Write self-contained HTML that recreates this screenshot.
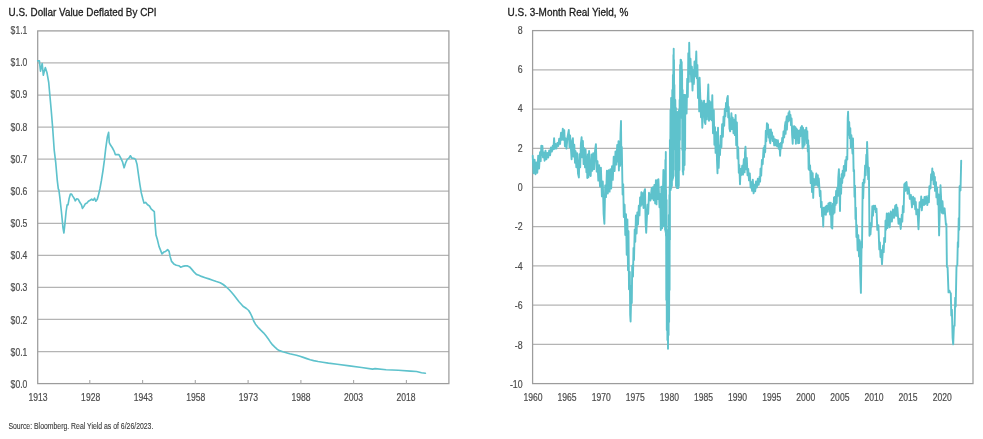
<!DOCTYPE html>
<html><head><meta charset="utf-8"><title>Charts</title>
<style>html,body{margin:0;padding:0;background:#fff;}body{width:983px;height:439px;overflow:hidden;font-family:"Liberation Sans",sans-serif;}svg{display:block;}</style>
</head><body>
<svg width="983" height="439" viewBox="0 0 983 439" font-family="Liberation Sans, sans-serif">
<rect width="983" height="439" fill="#fff"/>
<line x1="37.7" y1="62.96" x2="448.9" y2="62.96" stroke="#b4b4b4" stroke-width="1.25"/>
<line x1="37.7" y1="95.03" x2="448.9" y2="95.03" stroke="#b4b4b4" stroke-width="1.25"/>
<line x1="37.7" y1="127.09" x2="448.9" y2="127.09" stroke="#b4b4b4" stroke-width="1.25"/>
<line x1="37.7" y1="159.15" x2="448.9" y2="159.15" stroke="#b4b4b4" stroke-width="1.25"/>
<line x1="37.7" y1="191.22" x2="448.9" y2="191.22" stroke="#b4b4b4" stroke-width="1.25"/>
<line x1="37.7" y1="223.28" x2="448.9" y2="223.28" stroke="#b4b4b4" stroke-width="1.25"/>
<line x1="37.7" y1="255.35" x2="448.9" y2="255.35" stroke="#b4b4b4" stroke-width="1.25"/>
<line x1="37.7" y1="287.41" x2="448.9" y2="287.41" stroke="#b4b4b4" stroke-width="1.25"/>
<line x1="37.7" y1="319.47" x2="448.9" y2="319.47" stroke="#b4b4b4" stroke-width="1.25"/>
<line x1="37.7" y1="351.54" x2="448.9" y2="351.54" stroke="#b4b4b4" stroke-width="1.25"/>
<rect x="37.7" y="30.9" width="411.2" height="352.70000000000005" fill="none" stroke="#9c9c9c" stroke-width="1.25"/>
<line x1="89.8" y1="383.6" x2="89.8" y2="380.1" stroke="#a8a8a8" stroke-width="1.1"/>
<line x1="142.6" y1="383.6" x2="142.6" y2="380.1" stroke="#a8a8a8" stroke-width="1.1"/>
<line x1="195.3" y1="383.6" x2="195.3" y2="380.1" stroke="#a8a8a8" stroke-width="1.1"/>
<line x1="248.1" y1="383.6" x2="248.1" y2="380.1" stroke="#a8a8a8" stroke-width="1.1"/>
<line x1="300.9" y1="383.6" x2="300.9" y2="380.1" stroke="#a8a8a8" stroke-width="1.1"/>
<line x1="353.6" y1="383.6" x2="353.6" y2="380.1" stroke="#a8a8a8" stroke-width="1.1"/>
<line x1="406.4" y1="383.6" x2="406.4" y2="380.1" stroke="#a8a8a8" stroke-width="1.1"/>
<path d="M37.7,60.8 L39.4,60.8 L40.5,71.1 L42.2,63.5 L43.3,75.2 L45.3,67.6 L47.0,72.8 L48.7,82.3 L49.8,94.5 L51.2,110.0 L52.6,127.0 L54.2,150.0 L55.7,162.3 L57.3,180.7 L58.3,188.9 L58.9,190.0 L59.8,197.1 L61.4,211.5 L63.0,227.9 L63.9,233.0 L64.9,223.8 L66.1,211.5 L67.1,204.9 L68.0,204.9 L69.2,198.2 L70.4,194.1 L71.6,194.1 L72.7,196.1 L74.1,198.2 L75.3,200.8 L76.8,198.8 L78.2,199.2 L79.8,202.3 L81.5,204.9 L82.5,208.4 L83.9,206.4 L85.4,203.7 L87.0,202.9 L88.4,201.2 L90.1,200.2 L91.7,199.2 L93.2,200.2 L94.6,198.2 L95.8,201.2 L97.3,199.2 L98.7,194.1 L99.9,188.9 L101.4,180.7 L103.0,170.5 L104.4,160.2 L105.7,148.7 L107.4,136.7 L108.6,132.4 L109.3,142.7 L110.5,145.1 L112.2,147.5 L114.1,151.1 L115.3,154.6 L117.0,154.6 L118.9,154.6 L120.8,158.2 L122.5,161.8 L124.1,167.8 L125.6,163.0 L127.2,159.4 L128.9,158.2 L130.4,155.8 L132.0,158.2 L133.7,158.2 L135.6,159.4 L137.0,164.2 L138.5,174.9 L139.9,184.5 L141.3,192.9 L142.8,198.8 L144.0,203.1 L145.6,202.4 L147.6,204.8 L149.5,206.0 L151.1,208.9 L152.8,210.3 L154.3,211.6 L155.0,222.6 L156.0,235.1 L157.5,240.1 L159.0,246.4 L160.5,250.1 L162.0,253.9 L163.8,252.1 L165.6,251.4 L167.6,249.6 L169.1,251.4 L170.1,256.4 L171.6,261.4 L173.8,263.9 L176.3,265.2 L178.8,265.7 L180.6,267.2 L182.6,266.4 L185.1,265.9 L187.6,265.9 L189.6,266.9 L191.4,268.9 L193.9,271.9 L196.4,274.4 L198.9,275.2 L201.4,276.4 L205.2,277.7 L208.9,278.9 L212.7,280.2 L216.4,281.5 L220.2,282.7 L223.2,284.5 L225.7,286.5 L229.0,289.5 L231.5,292.2 L234.0,295.2 L236.5,298.5 L239.0,301.8 L241.5,304.5 L243.0,306.2 L246.4,308.5 L248.7,310.5 L250.5,313.5 L252.1,316.9 L253.7,321.0 L255.5,324.2 L257.8,327.1 L260.5,329.9 L263.5,332.8 L265.8,335.6 L268.0,338.5 L270.3,341.9 L272.6,344.9 L274.9,347.2 L277.1,349.2 L279.4,350.6 L282.8,351.7 L286.3,352.7 L289.7,353.8 L293.1,354.5 L296.5,355.2 L299.9,356.3 L303.3,357.4 L306.8,358.6 L310.2,359.7 L313.6,360.6 L318.1,361.5 L322.7,362.2 L328.4,363.1 L337.2,364.2 L349.4,365.9 L361.6,367.5 L372.6,369.1 L375.1,368.6 L386.1,369.7 L398.3,370.3 L410.5,371.1 L416.6,371.5 L421.5,372.7 L425.4,373.2" fill="none" stroke="#5ec2cc" stroke-width="1.65" stroke-linejoin="round" stroke-linecap="round"/>
<line x1="532.6" y1="69.82" x2="973" y2="69.82" stroke="#b4b4b4" stroke-width="1.25"/>
<line x1="532.6" y1="109.04" x2="973" y2="109.04" stroke="#b4b4b4" stroke-width="1.25"/>
<line x1="532.6" y1="148.27" x2="973" y2="148.27" stroke="#b4b4b4" stroke-width="1.25"/>
<line x1="532.6" y1="187.49" x2="973" y2="187.49" stroke="#b4b4b4" stroke-width="1.25"/>
<line x1="532.6" y1="226.71" x2="973" y2="226.71" stroke="#b4b4b4" stroke-width="1.25"/>
<line x1="532.6" y1="265.93" x2="973" y2="265.93" stroke="#b4b4b4" stroke-width="1.25"/>
<line x1="532.6" y1="305.16" x2="973" y2="305.16" stroke="#b4b4b4" stroke-width="1.25"/>
<line x1="532.6" y1="344.38" x2="973" y2="344.38" stroke="#b4b4b4" stroke-width="1.25"/>
<rect x="532.6" y="30.6" width="440.4" height="353.0" fill="none" stroke="#9c9c9c" stroke-width="1.25"/>
<path d="M532.7,155.8 L533.6,173.3 L534.6,159.6 L535.5,174.3 L536.4,162.4 L537.3,172.8 L538.2,155.6 L539.1,168.5 L540.0,152.2 L540.7,161.1 L541.3,145.8 L541.9,154.8 L542.4,145.9 L543.0,157.4 L543.7,152.4 L544.6,160.7 L545.5,150.6 L546.4,159.3 L547.3,152.9 L548.2,157.5 L549.2,150.4 L550.1,155.3 L551.0,147.4 L551.9,151.6 L552.8,145.7 L553.4,149.4 L554.1,138.2 L554.8,148.8 L555.5,143.9 L556.4,148.5 L557.4,142.9 L558.3,146.0 L559.2,138.6 L560.1,144.0 L561.0,132.8 L561.9,139.8 L562.8,128.7 L563.6,139.9 L564.3,130.3 L564.9,146.2 L565.6,138.5 L566.5,148.6 L567.4,137.8 L568.8,130.0 L569.5,147.2 L570.1,135.5 L571.6,159.2 L572.2,141.4 L572.9,138.2 L573.6,156.6 L574.3,144.7 L575.0,162.8 L575.6,151.2 L576.3,167.3 L577.1,153.1 L578.0,173.6 L578.9,177.5 L579.5,154.2 L580.2,167.3 L580.9,143.5 L581.6,137.3 L582.3,157.4 L582.9,141.0 L583.6,164.1 L584.3,148.1 L585.0,167.4 L585.6,149.6 L586.4,172.3 L587.1,157.2 L587.3,178.0 L587.8,154.5 L588.4,177.4 L589.1,151.0 L589.9,174.2 L590.7,176.0 L591.5,154.5 L592.3,170.7 L593.2,153.1 L594.1,169.1 L595.0,151.0 L595.9,144.1 L596.7,171.6 L597.5,161.2 L598.3,180.6 L599.1,165.1 L600.0,186.4 L600.9,167.6 L601.9,196.4 L602.8,181.5 L603.6,213.6 L604.4,223.8 L605.2,185.5 L606.0,197.1 L606.9,170.7 L607.8,193.5 L608.7,170.2 L609.6,191.6 L610.4,169.1 L611.2,188.5 L612.0,166.2 L612.8,179.9 L613.7,156.7 L614.6,171.0 L615.5,151.4 L616.4,164.6 L617.2,144.9 L618.0,161.5 L618.5,141.3 L618.9,170.6 L619.5,141.9 L620.0,165.9 L620.5,134.0 L621.0,121.0 L621.4,164.2 L621.8,147.0 L622.6,194.6 L623.2,184.1 L623.8,217.0 L624.6,204.8 L625.3,235.0 L626.0,214.3 L626.7,254.7 L627.4,219.4 L628.0,270.3 L628.5,231.3 L629.0,289.3 L629.8,271.9 L630.2,314.9 L630.6,321.5 L631.4,285.7 L631.8,303.1 L632.2,265.6 L633.0,276.5 L633.5,247.9 L634.0,260.1 L634.7,229.5 L635.3,241.7 L635.9,215.4 L636.6,233.5 L637.3,212.4 L638.0,224.5 L638.8,205.8 L639.5,215.4 L640.1,197.4 L640.8,205.9 L641.4,192.1 L642.0,204.5 L642.8,193.2 L643.5,208.0 L644.2,191.8 L645.0,189.1 L645.6,222.6 L646.2,232.8 L647.5,204.8 L648.2,213.9 L649.0,192.8 L650.4,200.6 L651.7,188.0 L652.3,198.6 L653.0,187.1 L653.7,200.2 L654.4,184.9 L655.2,203.4 L655.9,180.1 L656.5,204.4 L657.2,180.3 L657.8,199.1 L658.4,179.1 L659.5,207.2 L660.2,194.2 L660.8,230.1 L661.4,186.6 L662.1,228.2 L663.4,170.0 L663.6,226.0 L663.9,177.2 L664.1,226.0 L664.3,172.0 L664.6,220.4 L664.9,175.0 L665.1,230.0 L665.4,160.0 L665.6,232.0 L665.8,152.0 L666.0,236.0 L666.1,190.0 L666.3,300.0 L666.6,200.0 L666.8,330.0 L667.2,230.0 L667.4,340.0 L667.8,250.0 L668.0,348.8 L668.4,240.0 L668.6,335.0 L668.9,215.0 L669.1,322.0 L669.4,195.0 L669.6,290.0 L669.7,186.0 L669.9,240.0 L669.9,140.0 L670.1,190.0 L670.5,110.0 L670.7,190.0 L671.1,98.0 L671.3,188.0 L671.7,98.0 L671.9,186.0 L672.3,90.0 L672.5,180.0 L672.9,75.0 L673.1,178.0 L673.4,55.0 L673.6,176.0 L673.7,48.7 L673.9,170.0 L674.0,60.0 L674.2,150.0 L674.4,85.0 L674.6,120.0 L674.9,99.4 L675.1,125.0 L675.3,100.0 L675.7,130.0 L675.9,108.0 L676.0,186.0 L676.2,112.0 L676.5,178.3 L676.7,112.0 L676.9,188.0 L677.1,121.6 L677.4,188.0 L677.6,112.0 L677.9,176.8 L678.1,112.0 L678.3,188.0 L678.5,114.5 L678.8,186.0 L679.0,110.0 L679.4,170.0 L679.6,100.0 L679.9,140.0 L680.1,65.0 L680.4,118.0 L680.6,59.6 L680.9,109.2 L681.1,60.0 L681.3,115.0 L681.7,62.0 L681.9,115.0 L682.1,70.0 L682.3,150.0 L682.6,90.0 L682.8,172.0 L683.0,95.0 L683.2,174.5 L683.5,107.2 L683.7,170.0 L683.9,95.0 L684.1,153.1 L684.4,95.0 L684.6,165.0 L684.9,96.5 L685.1,150.0 L685.3,95.0 L686.0,96.1 L686.6,113.6 L687.2,78.7 L687.8,97.1 L688.3,53.3 L688.8,81.9 L689.2,42.7 L689.9,73.9 L690.5,58.8 L691.2,81.6 L691.9,66.8 L692.5,90.5 L693.2,69.9 L693.9,83.9 L694.5,61.5 L695.4,76.4 L696.3,51.4 L696.8,78.3 L697.4,64.9 L698.0,98.0 L698.7,82.0 L699.2,111.4 L699.6,77.8 L701.0,117.2 L701.6,100.7 L702.3,127.8 L703.2,104.2 L704.1,100.6 L704.8,122.1 L705.4,124.0 L706.1,103.6 L706.9,119.4 L708.3,84.5 L709.0,120.7 L709.6,101.1 L710.2,119.1 L710.9,102.5 L711.6,120.3 L712.3,95.1 L713.0,133.2 L713.8,110.2 L714.4,144.7 L715.0,127.3 L715.6,152.9 L716.3,132.1 L717.0,160.5 L717.5,173.3 L718.0,127.8 L718.2,141.8 L718.7,167.9 L719.4,145.6 L720.0,155.0 L720.7,135.9 L721.4,147.2 L722.1,124.2 L722.9,136.8 L723.5,116.6 L724.2,125.8 L724.8,108.9 L725.4,116.2 L726.0,102.9 L726.5,111.1 L727.1,98.5 L727.8,96.0 L728.2,117.4 L728.7,106.9 L729.5,128.6 L730.2,131.4 L731.4,113.3 L732.0,129.1 L732.7,117.8 L733.5,133.3 L734.2,119.6 L734.9,135.1 L735.6,115.0 L736.2,145.2 L736.9,122.5 L737.5,158.6 L738.2,147.3 L738.8,172.8 L739.3,165.0 L740.0,184.3 L740.7,169.0 L741.4,175.0 L742.2,165.8 L743.0,174.6 L743.8,159.2 L744.6,172.4 L745.0,152.3 L745.5,146.7 L746.2,169.2 L746.8,157.9 L747.5,175.3 L748.2,168.9 L749.0,180.4 L749.8,173.4 L750.6,187.5 L751.4,182.2 L752.1,190.8 L752.8,179.7 L753.6,193.4 L754.4,184.6 L755.2,191.3 L756.0,181.4 L756.9,187.5 L757.8,178.8 L758.7,184.8 L759.6,176.7 L760.1,181.6 L760.5,168.6 L761.2,175.6 L761.9,160.0 L762.7,164.3 L763.5,148.3 L764.0,157.0 L764.6,145.6 L765.2,152.2 L765.8,130.8 L766.3,141.3 L766.9,123.3 L767.5,134.1 L768.0,124.5 L768.6,137.5 L769.2,129.8 L769.7,140.6 L770.3,143.3 L770.9,129.5 L771.4,137.1 L772.0,132.5 L772.6,141.0 L773.4,136.5 L774.2,145.4 L774.9,139.2 L775.5,145.3 L776.3,140.0 L777.1,146.3 L777.9,140.3 L778.7,148.7 L779.4,143.9 L780.1,155.8 L780.8,142.9 L781.5,148.4 L782.2,137.9 L782.8,142.8 L783.5,131.5 L784.2,137.5 L784.9,126.2 L785.5,121.9 L785.6,133.9 L786.2,121.8 L786.8,116.4 L786.9,129.6 L787.6,115.9 L788.3,121.4 L788.5,112.9 L789.0,119.9 L789.4,111.2 L789.9,120.2 L790.5,115.0 L791.0,125.3 L791.6,118.5 L792.1,135.0 L792.7,143.7 L793.2,126.5 L793.7,136.4 L794.3,126.3 L794.8,138.2 L795.4,127.1 L795.9,143.7 L796.5,128.6 L797.0,138.2 L797.6,130.2 L798.1,143.2 L798.7,131.0 L799.2,143.0 L799.8,130.2 L800.3,136.3 L800.8,127.5 L801.4,135.9 L801.9,126.0 L802.5,148.3 L803.0,127.8 L803.6,146.9 L804.1,130.5 L804.7,144.7 L805.2,129.9 L805.8,137.8 L806.3,127.6 L806.9,143.1 L807.3,131.1 L807.8,151.4 L808.2,140.3 L808.6,169.1 L808.7,145.5 L809.4,170.1 L810.1,165.5 L810.7,183.1 L811.4,171.1 L812.0,192.0 L812.7,173.3 L813.2,197.9 L813.7,178.6 L815.0,185.2 L816.3,173.5 L817.0,185.0 L817.8,175.1 L818.3,186.6 L818.8,178.5 L819.9,196.1 L820.5,190.9 L821.0,207.3 L821.6,201.7 L822.1,216.3 L822.7,208.3 L823.2,226.5 L823.8,207.6 L824.3,214.5 L825.4,206.9 L825.9,214.7 L826.5,205.6 L827.8,211.8 L828.4,203.4 L829.0,208.9 L829.6,202.6 L830.1,214.5 L830.8,202.8 L831.4,227.5 L831.9,206.1 L832.3,228.5 L832.9,203.8 L833.4,213.9 L834.0,197.4 L834.5,212.6 L835.1,196.6 L835.6,204.9 L836.1,191.0 L836.7,203.0 L837.2,187.6 L837.8,195.9 L838.3,177.6 L838.9,169.1 L840.0,211.0 L840.5,178.8 L841.1,193.7 L841.6,174.3 L842.2,183.0 L842.7,170.6 L843.3,177.8 L843.8,166.0 L844.3,175.8 L845.4,160.1 L846.0,170.7 L846.5,156.8 L847.3,159.6 L847.7,118.3 L848.1,111.8 L848.7,134.9 L849.2,122.0 L849.8,138.2 L850.3,128.1 L850.8,147.3 L851.4,135.3 L852.5,153.5 L853.0,138.4 L853.6,171.2 L854.1,170.2 L854.5,196.8 L855.0,185.8 L855.5,219.0 L855.9,207.6 L856.4,237.0 L856.9,225.2 L857.6,250.4 L858.3,235.1 L859.0,256.4 L859.6,240.1 L860.2,273.7 L860.9,292.9 L861.6,241.6 L862.0,247.7 L862.7,183.0 L863.2,198.2 L863.8,179.4 L864.5,182.8 L865.1,165.4 L865.7,175.2 L866.3,154.8 L866.7,165.9 L867.1,141.9 L868.2,179.2 L868.9,167.8 L869.5,235.8 L870.0,225.2 L870.5,234.2 L871.1,222.9 L871.7,226.6 L872.3,206.3 L873.0,215.6 L873.6,205.6 L874.4,209.0 L875.1,205.6 L875.8,212.1 L876.5,208.6 L877.3,229.9 L878.4,225.1 L879.3,249.4 L879.9,242.5 L880.5,257.0 L881.2,250.2 L882.0,264.1 L883.1,245.5 L883.7,252.1 L884.2,237.9 L885.1,242.0 L885.5,220.8 L886.0,229.8 L886.8,213.4 L887.5,228.0 L888.7,213.2 L889.7,227.3 L890.8,211.5 L891.9,221.6 L893.0,209.5 L894.1,217.9 L895.2,205.8 L895.7,215.5 L896.3,204.7 L896.8,215.9 L897.4,207.7 L898.5,223.8 L899.6,218.8 L900.7,229.0 L901.8,214.7 L902.3,221.6 L902.9,205.9 L903.6,212.3 L904.3,184.2 L904.9,191.1 L905.4,182.9 L905.9,190.2 L906.5,182.0 L907.6,193.7 L908.7,187.5 L909.8,198.8 L910.9,195.0 L912.0,207.3 L913.1,196.6 L914.1,204.2 L914.7,198.1 L915.2,209.2 L915.8,202.0 L916.3,214.4 L917.4,209.4 L918.5,229.2 L919.6,202.2 L920.7,206.9 L921.2,196.5 L921.8,210.4 L922.9,199.6 L924.0,205.1 L924.5,197.0 L925.1,204.2 L926.2,196.5 L927.3,205.1 L928.4,195.7 L928.9,202.2 L929.4,186.3 L930.5,188.4 L931.1,174.1 L931.6,180.0 L932.3,168.5 L932.7,178.2 L933.2,171.7 L933.6,184.2 L933.8,172.9 L934.4,184.5 L934.9,177.0 L935.0,190.9 L936.0,182.1 L936.4,197.4 L937.1,187.4 L937.7,204.4 L938.4,194.4 L939.1,235.4 L940.5,185.3 L941.8,212.8 L942.5,201.3 L943.2,213.6 L944.6,208.3 L945.9,224.7 L946.4,224.1 L946.9,267.0 L947.6,267.4 L948.5,292.4 L949.4,290.6 L950.3,293.0 L950.8,293.3 L951.3,315.6 L951.9,309.8 L952.6,337.8 L953.2,344.3 L953.9,326.1 L954.6,325.9 L955.2,297.7 L955.7,306.5 L956.5,265.9 L957.3,265.7 L957.8,242.2 L958.2,247.0 L958.7,218.3 L959.2,229.8 L959.6,186.2 L960.5,190.5 L961.2,160.6" fill="none" stroke="#5ec2cc" stroke-width="1.9" stroke-linejoin="round" stroke-linecap="round"/>
<g style="filter:grayscale(1)"><text transform="translate(10.60,34.05) scale(0.86,1)" font-size="10" fill="#4a4a4a" stroke="#4a4a4a" stroke-width="0.18" text-anchor="start" font-weight="normal">$1.1</text><text transform="translate(10.60,66.22) scale(0.86,1)" font-size="10" fill="#4a4a4a" stroke="#4a4a4a" stroke-width="0.18" text-anchor="start" font-weight="normal">$1.0</text><text transform="translate(10.60,98.40) scale(0.86,1)" font-size="10" fill="#4a4a4a" stroke="#4a4a4a" stroke-width="0.18" text-anchor="start" font-weight="normal">$0.9</text><text transform="translate(10.60,130.57) scale(0.86,1)" font-size="10" fill="#4a4a4a" stroke="#4a4a4a" stroke-width="0.18" text-anchor="start" font-weight="normal">$0.8</text><text transform="translate(10.60,162.74) scale(0.86,1)" font-size="10" fill="#4a4a4a" stroke="#4a4a4a" stroke-width="0.18" text-anchor="start" font-weight="normal">$0.7</text><text transform="translate(10.60,194.92) scale(0.86,1)" font-size="10" fill="#4a4a4a" stroke="#4a4a4a" stroke-width="0.18" text-anchor="start" font-weight="normal">$0.6</text><text transform="translate(10.60,227.09) scale(0.86,1)" font-size="10" fill="#4a4a4a" stroke="#4a4a4a" stroke-width="0.18" text-anchor="start" font-weight="normal">$0.5</text><text transform="translate(10.60,259.27) scale(0.86,1)" font-size="10" fill="#4a4a4a" stroke="#4a4a4a" stroke-width="0.18" text-anchor="start" font-weight="normal">$0.4</text><text transform="translate(10.60,291.44) scale(0.86,1)" font-size="10" fill="#4a4a4a" stroke="#4a4a4a" stroke-width="0.18" text-anchor="start" font-weight="normal">$0.3</text><text transform="translate(10.60,323.61) scale(0.86,1)" font-size="10" fill="#4a4a4a" stroke="#4a4a4a" stroke-width="0.18" text-anchor="start" font-weight="normal">$0.2</text><text transform="translate(10.60,355.79) scale(0.86,1)" font-size="10" fill="#4a4a4a" stroke="#4a4a4a" stroke-width="0.18" text-anchor="start" font-weight="normal">$0.1</text><text transform="translate(10.60,387.96) scale(0.86,1)" font-size="10" fill="#4a4a4a" stroke="#4a4a4a" stroke-width="0.18" text-anchor="start" font-weight="normal">$0.0</text><text transform="translate(38.10,401.00) scale(0.86,1)" font-size="10" fill="#4a4a4a" stroke="#4a4a4a" stroke-width="0.18" text-anchor="middle" font-weight="normal">1913</text><text transform="translate(90.67,401.00) scale(0.86,1)" font-size="10" fill="#4a4a4a" stroke="#4a4a4a" stroke-width="0.18" text-anchor="middle" font-weight="normal">1928</text><text transform="translate(143.24,401.00) scale(0.86,1)" font-size="10" fill="#4a4a4a" stroke="#4a4a4a" stroke-width="0.18" text-anchor="middle" font-weight="normal">1943</text><text transform="translate(195.81,401.00) scale(0.86,1)" font-size="10" fill="#4a4a4a" stroke="#4a4a4a" stroke-width="0.18" text-anchor="middle" font-weight="normal">1958</text><text transform="translate(248.38,401.00) scale(0.86,1)" font-size="10" fill="#4a4a4a" stroke="#4a4a4a" stroke-width="0.18" text-anchor="middle" font-weight="normal">1973</text><text transform="translate(300.95,401.00) scale(0.86,1)" font-size="10" fill="#4a4a4a" stroke="#4a4a4a" stroke-width="0.18" text-anchor="middle" font-weight="normal">1988</text><text transform="translate(353.52,401.00) scale(0.86,1)" font-size="10" fill="#4a4a4a" stroke="#4a4a4a" stroke-width="0.18" text-anchor="middle" font-weight="normal">2003</text><text transform="translate(406.09,401.00) scale(0.86,1)" font-size="10" fill="#4a4a4a" stroke="#4a4a4a" stroke-width="0.18" text-anchor="middle" font-weight="normal">2018</text><text transform="translate(8.60,15.90) scale(0.915,1)" font-size="10.8" fill="#1c1c22" stroke="#1c1c22" stroke-width="0.3" text-anchor="start" font-weight="normal">U.S. Dollar Value Deflated By CPI</text><text transform="translate(522.60,33.65) scale(0.88,1)" font-size="10" fill="#4a4a4a" stroke="#4a4a4a" stroke-width="0.18" text-anchor="end" font-weight="normal">8</text><text transform="translate(522.60,73.01) scale(0.88,1)" font-size="10" fill="#4a4a4a" stroke="#4a4a4a" stroke-width="0.18" text-anchor="end" font-weight="normal">6</text><text transform="translate(522.60,112.36) scale(0.88,1)" font-size="10" fill="#4a4a4a" stroke="#4a4a4a" stroke-width="0.18" text-anchor="end" font-weight="normal">4</text><text transform="translate(522.60,151.72) scale(0.88,1)" font-size="10" fill="#4a4a4a" stroke="#4a4a4a" stroke-width="0.18" text-anchor="end" font-weight="normal">2</text><text transform="translate(522.60,191.08) scale(0.88,1)" font-size="10" fill="#4a4a4a" stroke="#4a4a4a" stroke-width="0.18" text-anchor="end" font-weight="normal">0</text><text transform="translate(522.60,230.44) scale(0.88,1)" font-size="10" fill="#4a4a4a" stroke="#4a4a4a" stroke-width="0.18" text-anchor="end" font-weight="normal">-2</text><text transform="translate(522.60,269.79) scale(0.88,1)" font-size="10" fill="#4a4a4a" stroke="#4a4a4a" stroke-width="0.18" text-anchor="end" font-weight="normal">-4</text><text transform="translate(522.60,309.15) scale(0.88,1)" font-size="10" fill="#4a4a4a" stroke="#4a4a4a" stroke-width="0.18" text-anchor="end" font-weight="normal">-6</text><text transform="translate(522.60,348.51) scale(0.88,1)" font-size="10" fill="#4a4a4a" stroke="#4a4a4a" stroke-width="0.18" text-anchor="end" font-weight="normal">-8</text><text transform="translate(522.60,387.87) scale(0.88,1)" font-size="10" fill="#4a4a4a" stroke="#4a4a4a" stroke-width="0.18" text-anchor="end" font-weight="normal">-10</text><text transform="translate(533.00,401.00) scale(0.86,1)" font-size="10" fill="#4a4a4a" stroke="#4a4a4a" stroke-width="0.18" text-anchor="middle" font-weight="normal">1960</text><text transform="translate(567.10,401.00) scale(0.86,1)" font-size="10" fill="#4a4a4a" stroke="#4a4a4a" stroke-width="0.18" text-anchor="middle" font-weight="normal">1965</text><text transform="translate(601.20,401.00) scale(0.86,1)" font-size="10" fill="#4a4a4a" stroke="#4a4a4a" stroke-width="0.18" text-anchor="middle" font-weight="normal">1970</text><text transform="translate(635.30,401.00) scale(0.86,1)" font-size="10" fill="#4a4a4a" stroke="#4a4a4a" stroke-width="0.18" text-anchor="middle" font-weight="normal">1975</text><text transform="translate(669.40,401.00) scale(0.86,1)" font-size="10" fill="#4a4a4a" stroke="#4a4a4a" stroke-width="0.18" text-anchor="middle" font-weight="normal">1980</text><text transform="translate(703.50,401.00) scale(0.86,1)" font-size="10" fill="#4a4a4a" stroke="#4a4a4a" stroke-width="0.18" text-anchor="middle" font-weight="normal">1985</text><text transform="translate(737.60,401.00) scale(0.86,1)" font-size="10" fill="#4a4a4a" stroke="#4a4a4a" stroke-width="0.18" text-anchor="middle" font-weight="normal">1990</text><text transform="translate(771.70,401.00) scale(0.86,1)" font-size="10" fill="#4a4a4a" stroke="#4a4a4a" stroke-width="0.18" text-anchor="middle" font-weight="normal">1995</text><text transform="translate(805.80,401.00) scale(0.86,1)" font-size="10" fill="#4a4a4a" stroke="#4a4a4a" stroke-width="0.18" text-anchor="middle" font-weight="normal">2000</text><text transform="translate(839.90,401.00) scale(0.86,1)" font-size="10" fill="#4a4a4a" stroke="#4a4a4a" stroke-width="0.18" text-anchor="middle" font-weight="normal">2005</text><text transform="translate(874.00,401.00) scale(0.86,1)" font-size="10" fill="#4a4a4a" stroke="#4a4a4a" stroke-width="0.18" text-anchor="middle" font-weight="normal">2010</text><text transform="translate(908.10,401.00) scale(0.86,1)" font-size="10" fill="#4a4a4a" stroke="#4a4a4a" stroke-width="0.18" text-anchor="middle" font-weight="normal">2015</text><text transform="translate(942.20,401.00) scale(0.86,1)" font-size="10" fill="#4a4a4a" stroke="#4a4a4a" stroke-width="0.18" text-anchor="middle" font-weight="normal">2020</text><text transform="translate(507.60,15.90) scale(0.924,1)" font-size="10.8" fill="#1c1c22" stroke="#1c1c22" stroke-width="0.3" text-anchor="start" font-weight="normal">U.S. 3-Month Real Yield, %</text><text transform="translate(8.40,428.70) scale(0.82,1)" font-size="8.4" fill="#3a3a3a" stroke="#3a3a3a" stroke-width="0.12" text-anchor="start" font-weight="normal">Source: Bloomberg. Real Yield as of 6/26/2023.</text></g>
</svg>
</body></html>
